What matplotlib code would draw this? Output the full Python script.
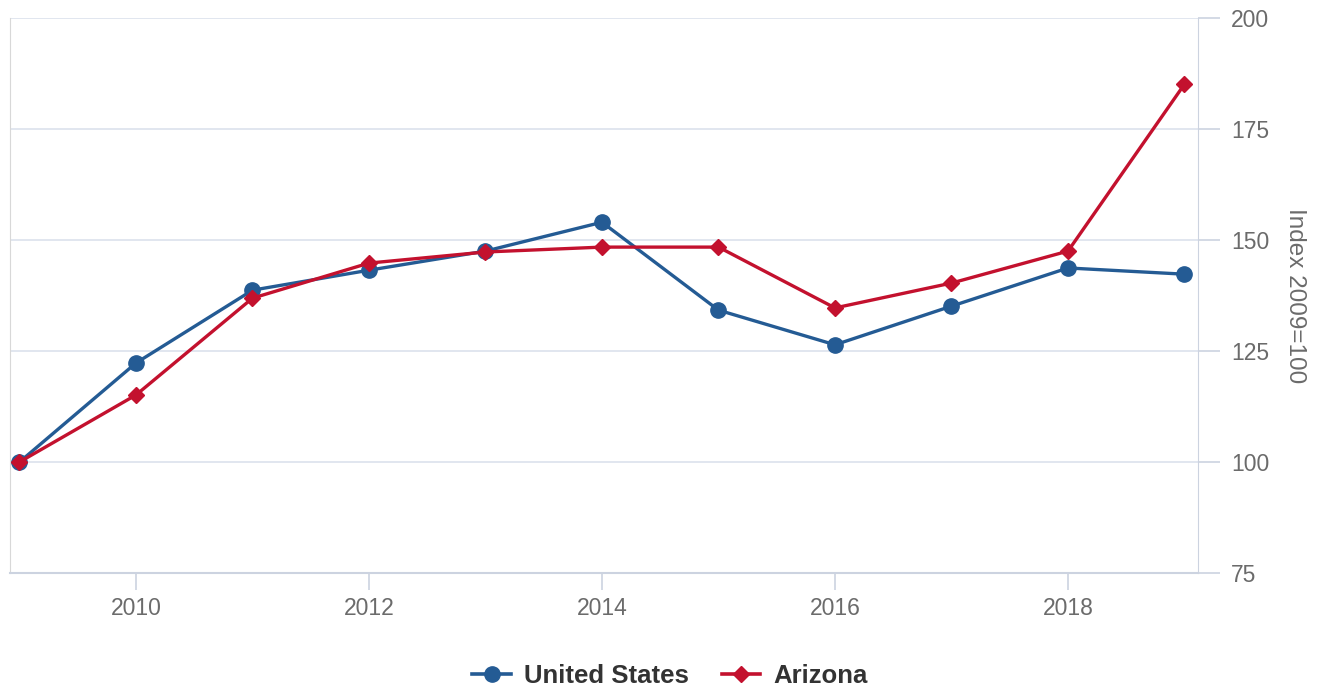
import matplotlib
matplotlib.use("Agg")
import matplotlib.pyplot as plt
from matplotlib.lines import Line2D

years = [2009, 2010, 2011, 2012, 2013, 2014, 2015, 2016, 2017, 2018, 2019]
us = [100, 122.3, 138.7, 143.2, 147.5, 154.0, 134.2, 126.4, 135.1, 143.7, 142.3]
az = [100, 115.1, 136.9, 144.8, 147.3, 148.4, 148.4, 134.7, 140.3, 147.5, 185.1]
yticks = [75, 100, 125, 150, 175, 200]
xticks = [2010, 2012, 2014, 2016, 2018]
ylabel = "Index 2009=100"
names = ["United States", "Arizona"]

US_C = "#245b94"
AZ_C = "#c3112e"
GRID = "#dce2ec"
TXT = "#6b6b6b"
AXC = "#ccd3e0"

plt.rcParams['font.family'] = ['Liberation Sans', 'DejaVu Sans']

fig = plt.figure(figsize=(13.31, 6.89), dpi=100)
ax = fig.add_axes([10/1331, 1-573/689, (1198-10)/1331, (573-18)/689])

ax.plot(years, us, color=US_C, lw=2.4, marker='o', ms=11, zorder=3)
ax.plot(years, az, color=AZ_C, lw=2.4, marker='D', ms=8, zorder=4)

ax.set_xlim(2009 - 9.5/116.5, 2019 + 13.5/116.5)
ax.set_ylim(75, 200)
ax.set_yticks(yticks)
ax.set_xticks(xticks)
ax.yaxis.tick_right()
ax.yaxis.set_label_position("right")
ax.grid(axis='y', color=GRID, lw=1.2)
ax.set_axisbelow(True)

ax.spines['top'].set_visible(False)
ax.spines['left'].set_color('#d8d8d8')
ax.spines['right'].set_color(AXC)
ax.spines['bottom'].set_color(AXC)
ax.spines['bottom'].set_linewidth(1.5)

ax.tick_params(axis='y', colors=AXC, labelcolor=TXT, labelsize=16.5, length=16, width=1.2, pad=8)
ax.tick_params(axis='x', colors=AXC, labelcolor=TXT, labelsize=16.5, length=12, width=1.2, pad=5)
ax.set_ylabel(ylabel, rotation=270, labelpad=26, color=TXT, fontsize=17.5)

handles = [Line2D([], [], color=US_C, lw=2.6, marker='o', ms=11),
           Line2D([], [], color=AZ_C, lw=2.6, marker='D', ms=8)]
leg = fig.legend(handles, names, loc='center', bbox_to_anchor=(670/1331, 1-676/689),
                 ncol=2, frameon=False, prop={'weight': 'bold', 'size': 18.5},
                 handlelength=1.5, columnspacing=1.3, handletextpad=0.5)
for t in leg.get_texts():
    t.set_color('#333333')

fig.savefig("out.png", dpi=100)
